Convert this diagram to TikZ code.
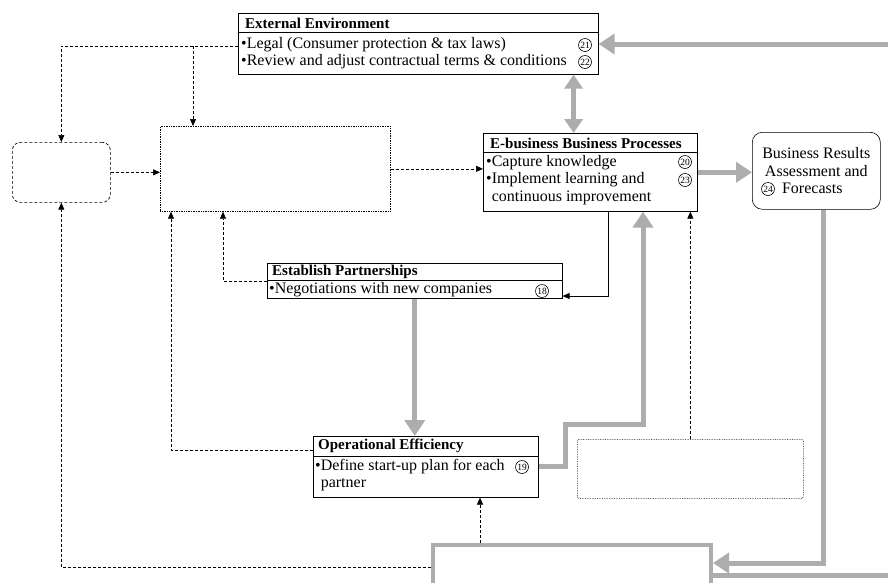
\documentclass[tikz,border=0pt]{standalone}
\usepackage{fontspec}
\setmainfont{Liberation Serif}
\usetikzlibrary{arrows.meta,positioning}
\definecolor{band}{gray}{0.68}

\begin{document}
\begin{tikzpicture}[
  x=1pt, y=-1pt,
  titled/.style = {rectangle, draw, line width=0.6pt, anchor=north west, inner sep=0pt},
  blank/.style  = {rectangle, draw, densely dotted, line width=0.7pt, anchor=north west, inner sep=0pt},
  head/.style   = {anchor=west, inner sep=0pt, font=\fontsize{15}{15}\selectfont\bfseries},
  items/.style  = {anchor=west, inner sep=0pt, align=left, font=\fontsize{16}{17.5}\selectfont},
  num/.style    = {circle, draw, line width=0.6pt, inner sep=0pt, minimum size=13pt,
                   font=\fontsize{9.5}{9.5}\selectfont},
  dline/.style  = {-{Triangle[length=7pt,width=6pt]}, line width=0.6pt, dash pattern=on 3pt off 2pt},
  sarr/.style   = {-{Triangle[length=7pt,width=6pt]}, line width=0.8pt},
  band/.style   = {line width=5pt, draw=band},
  barr/.style   = {band, -{Triangle[length=16pt,width=20pt]}},
]
  \clip (0,0) rectangle (888,582);
  \useasboundingbox (0,0) rectangle (888,582);

  % boxes with a title
  \node[titled, minimum width=360pt, minimum height=61pt] (extenv) at (238,13) {};
  \node[head] (extenv-h) at (245,23) {External Environment};
  \draw[line width=0.5pt] ([yshift=-19pt]extenv.north west) -- ([yshift=-19pt]extenv.north east);
  \node[items] (extenv-b) at (241,53)
    {\textbullet Legal (Consumer protection \& tax laws)\\
     \textbullet Review and adjust contractual terms \& conditions};
  \node[num] (n21) at (585,45) {21};
  \node[num] (n22) at (585,62) {22};

  \node[titled, minimum width=214pt, minimum height=78pt] (ebiz) at (483,133) {};
  \node[head] (ebiz-h) at (490,143) {E-business Business Processes};
  \draw[line width=0.5pt] ([yshift=-19pt]ebiz.north west) -- ([yshift=-19pt]ebiz.north east);
  \node[items] (ebiz-b) at (486,180)
    {\textbullet Capture knowledge\\
     \textbullet Implement learning and\\
     \hphantom{\textbullet}continuous improvement};
  \node[num] (n20) at (685,162) {20};
  \node[num] (n23) at (685,180) {23};

  \node[titled, rounded corners=10pt, minimum width=128pt, minimum height=77pt] (results) at (752,132) {};
  \node[align=center, inner sep=0pt, font=\fontsize{16}{17.5}\selectfont] (results-t) at (results.center)
    {Business Results\\Assessment and\\Forecasts\hspace*{8pt}};
  \node[num] (n24) at (768,189) {24};

  \node[titled, minimum width=295pt, minimum height=35pt] (partner) at (267,263) {};
  \node[head] (partner-h) at (272,272) {Establish Partnerships};
  \draw[line width=0.5pt] ([yshift=-17pt]partner.north west) -- ([yshift=-17pt]partner.north east);
  \node[items] (partner-b) at (269,290) {\textbullet Negotiations with new companies};
  \node[num] (n18) at (542,291) {18};

  \node[titled, minimum width=225pt, minimum height=61pt] (opeff) at (313,436) {};
  \node[head] (opeff-h) at (318,446) {Operational Efficiency};
  \draw[line width=0.5pt] ([yshift=-20pt]opeff.north west) -- ([yshift=-20pt]opeff.north east);
  \node[items] (opeff-b) at (315,475)
    {\textbullet Define start-up plan for each\\
     \hphantom{\textbullet}partner};
  \node[num] (n19) at (522,467) {19};

  % empty boxes
  \node[blank, rounded corners=8pt, dash pattern=on 3pt off 2pt,
        minimum width=98pt, minimum height=60pt] (lbox) at (12,142) {};
  \node[blank, minimum width=230pt, minimum height=85pt] (mbox) at (160,126) {};
  \node[blank, rounded corners=2pt, minimum width=226pt, minimum height=59pt] (rbox) at (577,439) {};
  \node[rectangle, draw=band, line width=4pt, anchor=north west,
        minimum width=278pt, minimum height=70pt] (base) at (431,543) {};

  % dashed links
  \coordinate (envout) at ([yshift=-33pt]extenv.north west);
  \coordinate (mtop) at ([xshift=33pt]mbox.north west);
  \draw[dline] (envout) -| (lbox.north);
  \draw[dline] (envout -| mtop) -- (mtop);
  \draw[dline] (lbox.east) -- (lbox.east -| mbox.west);
  \draw[dline] (mbox.east) -- (mbox.east -| ebiz.west);
  \draw[dline] (partner.west) -| ([xshift=63pt]mbox.south west);
  \draw[dline] ([yshift=-14pt]opeff.north west) -| ([xshift=11pt]mbox.south west);
  \draw[dline] ([yshift=-24pt]base.north west) -| (lbox.south);
  \coordinate (bup) at ([xshift=49pt]base.north west);
  \draw[dline] (bup) -- (bup |- opeff.south);
  \draw[dline] (rbox.north) -- (rbox.north |- ebiz.south);

  % solid link
  \coordinate (edown) at ([xshift=125pt]ebiz.south west);
  \draw[sarr] (edown) |- ([yshift=-33pt]partner.north east);

  % grey bands
  \coordinate (rimtop) at (888,44);
  \coordinate (rimbot) at (888,575);
  \draw[barr] (rimtop) -- (rimtop -| extenv.east);
  \coordinate (gdbl) at ([xshift=-25pt]extenv.south east);
  \draw[band, {Triangle[length=14pt,width=18pt]}-{Triangle[length=14pt,width=18pt]}]
    (gdbl) -- (gdbl |- ebiz.north);
  \draw[barr] (ebiz.east) -- (ebiz.east -| results.west);
  \coordinate (rdown) at ([xshift=7pt]results.south);
  \draw[barr] (rdown) |- ([yshift=-20pt]base.north east);
  \draw[band] (rimbot) -- (rimbot -| base.east);
  \draw[barr] (partner.south) -- (partner.south |- opeff.north);
  \draw[barr] (opeff.east) -- ++(27,0) -- ++(0,-42) -| ([xshift=160pt]ebiz.south west);
\end{tikzpicture}
\end{document}
